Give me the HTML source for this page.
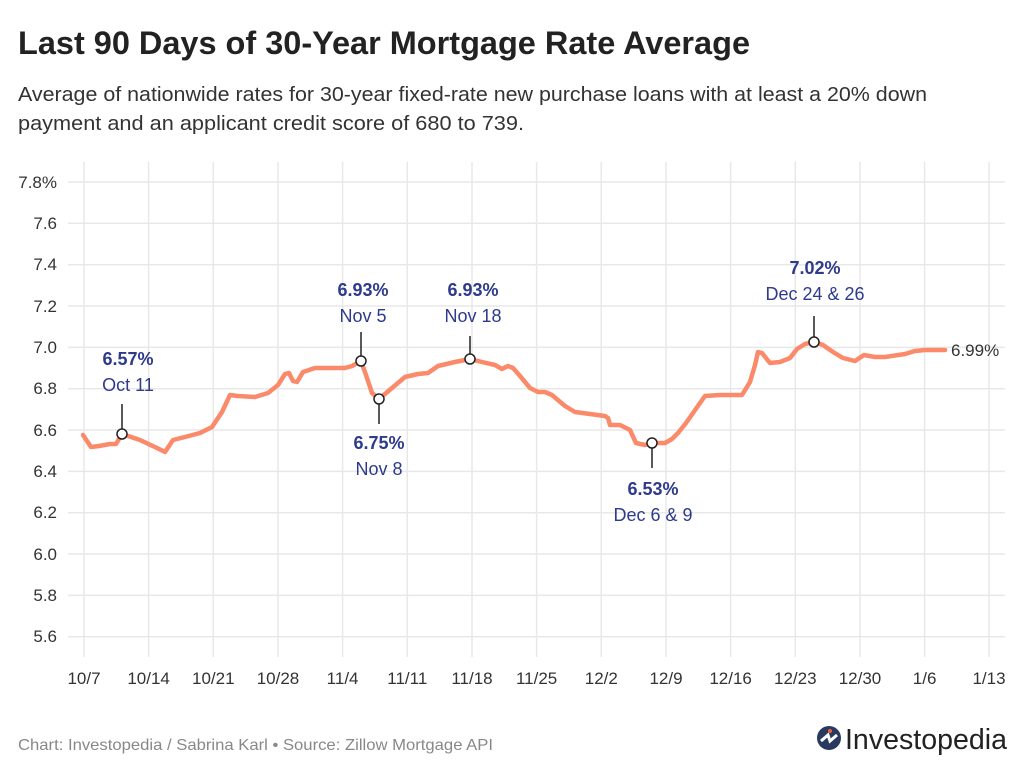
<!DOCTYPE html>
<html><head><meta charset="utf-8"><style>
body{margin:0;background:#fff;width:1024px;height:776px;overflow:hidden;font-family:"Liberation Sans",sans-serif}
</style></head><body>
<svg width="1024" height="776" xmlns="http://www.w3.org/2000/svg" font-family="Liberation Sans, sans-serif">
<text x="18" y="54" font-size="32" font-weight="bold" fill="#222" textLength="732" lengthAdjust="spacingAndGlyphs">Last 90 Days of 30-Year Mortgage Rate Average</text>
<text x="18" y="101" font-size="20" fill="#333" textLength="909" lengthAdjust="spacingAndGlyphs">Average of nationwide rates for 30-year fixed-rate new purchase loans with at least a 20% down</text>
<text x="18" y="130" font-size="20" fill="#333" textLength="506" lengthAdjust="spacingAndGlyphs">payment and an applicant credit score of 680 to 739.</text>
<g stroke="#e8e8e8" stroke-width="1.5">
<line x1="68" y1="182" x2="1005" y2="182"/><line x1="68" y1="223.3" x2="1005" y2="223.3"/><line x1="68" y1="264.7" x2="1005" y2="264.7"/><line x1="68" y1="306" x2="1005" y2="306"/><line x1="68" y1="347.4" x2="1005" y2="347.4"/><line x1="68" y1="388.7" x2="1005" y2="388.7"/><line x1="68" y1="430" x2="1005" y2="430"/><line x1="68" y1="471.4" x2="1005" y2="471.4"/><line x1="68" y1="512.7" x2="1005" y2="512.7"/><line x1="68" y1="554" x2="1005" y2="554"/><line x1="68" y1="595.4" x2="1005" y2="595.4"/><line x1="68" y1="636.7" x2="1005" y2="636.7"/>
<line x1="84" y1="162" x2="84" y2="657"/><line x1="148.6" y1="162" x2="148.6" y2="657"/><line x1="213.3" y1="162" x2="213.3" y2="657"/><line x1="278" y1="162" x2="278" y2="657"/><line x1="342.6" y1="162" x2="342.6" y2="657"/><line x1="407.3" y1="162" x2="407.3" y2="657"/><line x1="472" y1="162" x2="472" y2="657"/><line x1="536.6" y1="162" x2="536.6" y2="657"/><line x1="601.3" y1="162" x2="601.3" y2="657"/><line x1="666" y1="162" x2="666" y2="657"/><line x1="730.6" y1="162" x2="730.6" y2="657"/><line x1="795.3" y1="162" x2="795.3" y2="657"/><line x1="860" y1="162" x2="860" y2="657"/><line x1="924.6" y1="162" x2="924.6" y2="657"/><line x1="989" y1="162" x2="989" y2="657"/>
</g>
<g font-size="17" fill="#333" text-anchor="end">
<text x="57" y="188">7.8%</text><text x="57" y="229">7.6</text><text x="57" y="270">7.4</text><text x="57" y="312">7.2</text><text x="57" y="353">7.0</text><text x="57" y="394">6.8</text><text x="57" y="436">6.6</text><text x="57" y="477">6.4</text><text x="57" y="518">6.2</text><text x="57" y="560">6.0</text><text x="57" y="601">5.8</text><text x="57" y="642">5.6</text>
</g>
<g font-size="17" fill="#333" text-anchor="middle">
<text x="84" y="684">10/7</text><text x="148.6" y="684">10/14</text><text x="213.3" y="684">10/21</text><text x="278" y="684">10/28</text><text x="342.6" y="684">11/4</text><text x="407.3" y="684">11/11</text><text x="472" y="684">11/18</text><text x="536.6" y="684">11/25</text><text x="601.3" y="684">12/2</text><text x="666" y="684">12/9</text><text x="730.6" y="684">12/16</text><text x="795.3" y="684">12/23</text><text x="860" y="684">12/30</text><text x="924.6" y="684">1/6</text><text x="989" y="684">1/13</text>
</g>
<polyline fill="none" stroke="#fa8a6a" stroke-width="4.5" stroke-linejoin="round" stroke-linecap="round" points="83,435 91,447 99,446 110,444 116,444 122,434 140,440 157,448 165,452 173,440 185,437 200,433 212,427 222,412 230,395 238,396 255,397 268,393 278,385 285,374 289,373 293,381 297,382 303,372 315,368 330,368 345,368 352,366 361,361 366,375 372,393 379,399 392,388 405,377 418,374 428,373 438,366 455,362 470,359 482,362 495,365 502,369 508,366 513,368 520,376 530,388 538,392 545,392 552,395 565,406 575,412 590,414 605,416 608,418 610,425 620,425 630,430 636,443 645,445 652,443 665,443 672,439 678,433 686,423 700,403 705,396 720,395 742,395 750,382 755,365 758,352 762,353 770,363 780,362 790,358 797,349 805,344 814,342 823,345 833,352 843,358 855,361 864,355 875,357 885,357 905,354 915,351 925,350 945,350"/>
<g stroke="#222" stroke-width="1.5">
<line x1="122" y1="404" x2="122" y2="429"/><line x1="361" y1="332" x2="361" y2="356"/><line x1="379" y1="404" x2="379" y2="424"/><line x1="470" y1="336" x2="470" y2="354"/><line x1="652" y1="448" x2="652" y2="468"/><line x1="814" y1="316" x2="814" y2="337"/>
</g>
<g fill="#fff" stroke="#222" stroke-width="1.5">
<circle cx="122" cy="434" r="5"/><circle cx="361" cy="361" r="5"/><circle cx="379" cy="399" r="5"/><circle cx="470" cy="359" r="5"/><circle cx="652" cy="443" r="5"/><circle cx="814" cy="342" r="5"/>
</g>
<g fill="#2e3a8c" text-anchor="middle" font-size="18">
<text x="128" y="365" font-weight="bold">6.57%</text><text x="128" y="391">Oct 11</text>
<text x="363" y="296" font-weight="bold">6.93%</text><text x="363" y="322">Nov 5</text>
<text x="379" y="449" font-weight="bold">6.75%</text><text x="379" y="475">Nov 8</text>
<text x="473" y="296" font-weight="bold">6.93%</text><text x="473" y="322">Nov 18</text>
<text x="653" y="495" font-weight="bold">6.53%</text><text x="653" y="521">Dec 6 &amp; 9</text>
<text x="815" y="274" font-weight="bold">7.02%</text><text x="815" y="300">Dec 24 &amp; 26</text>
</g>
<text x="951" y="356" font-size="17" fill="#333">6.99%</text>
<text x="18" y="750" font-size="16" fill="#888" textLength="475" lengthAdjust="spacingAndGlyphs">Chart: Investopedia / Sabrina Karl • Source: Zillow Mortgage API</text>
<circle cx="829" cy="738" r="12" fill="#2a3a5e"/>
<path d="M821 741 L828 735 L830 741 L837 735" stroke="#fff" stroke-width="3" fill="none"/>
<circle cx="830" cy="731" r="2" fill="#e8643c"/>
<text x="845" y="749" font-size="29" fill="#222" textLength="162" lengthAdjust="spacingAndGlyphs">Investopedia</text>
</svg>
</body></html>
